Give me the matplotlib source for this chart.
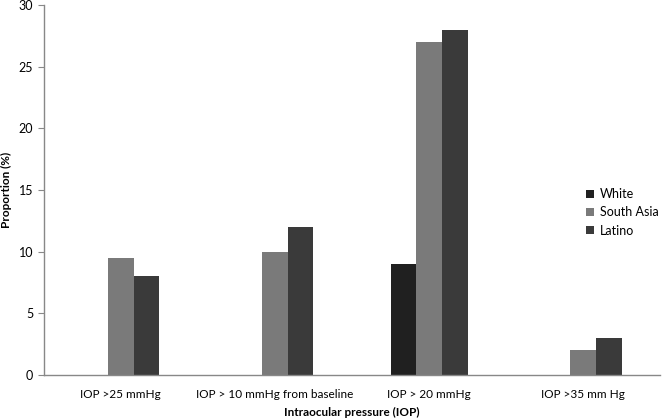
import numpy as np
import matplotlib
matplotlib.use("Agg")
import matplotlib.pyplot as plt

categories = ["IOP >25 mmHg", "IOP > 10 mmHg from baseline", "IOP > 20 mmHg", "IOP >35 mm Hg"]
white = [0, 0, 9, 0]
south_asia = [9.5, 10, 27, 2]
latino = [8, 12, 28, 3]

plt.rcParams["font.family"] = ["Lato", "DejaVu Sans"]

fig = plt.figure(figsize=(6.63, 4.2), dpi=100)
ax = fig.add_axes([0.066, 0.107, 0.93, 0.881])

x = np.arange(len(categories))
w = 0.166
ax.bar(x - w, white, w, color="#202020", label="White")
ax.bar(x, south_asia, w, color="#7a7a7a", label="South Asia")
ax.bar(x + w, latino, w, color="#3a3a3a", label="Latino")

ax.set_xlim(-0.5, 3.5)
ax.set_ylim(0, 30)
ax.set_yticks(range(0, 31, 5))
ax.set_xticks(x)
ax.set_xticklabels(categories, fontsize=8.5)
ax.tick_params(axis="x", length=0, pad=10)
ax.tick_params(axis="y", labelsize=9, length=4, color="#888888", width=0.8)
for s in ["top", "right"]:
    ax.spines[s].set_visible(False)
for s in ["left", "bottom"]:
    ax.spines[s].set_color("#888888")
    ax.spines[s].set_linewidth(1)

ax.set_ylabel("Proportion (%)", fontsize=8.5, fontweight="bold", labelpad=5)
ax.set_xlabel("Intraocular pressure (IOP)", fontsize=8.5, fontweight="bold", labelpad=5)

ax.legend(loc="center left", bbox_to_anchor=(0.88, 0.44), frameon=False, fontsize=9,
          handlelength=0.6, handleheight=0.6, handletextpad=0.5, labelspacing=0.5,
          borderaxespad=0, borderpad=0)

fig.savefig("out.png", dpi=100)
